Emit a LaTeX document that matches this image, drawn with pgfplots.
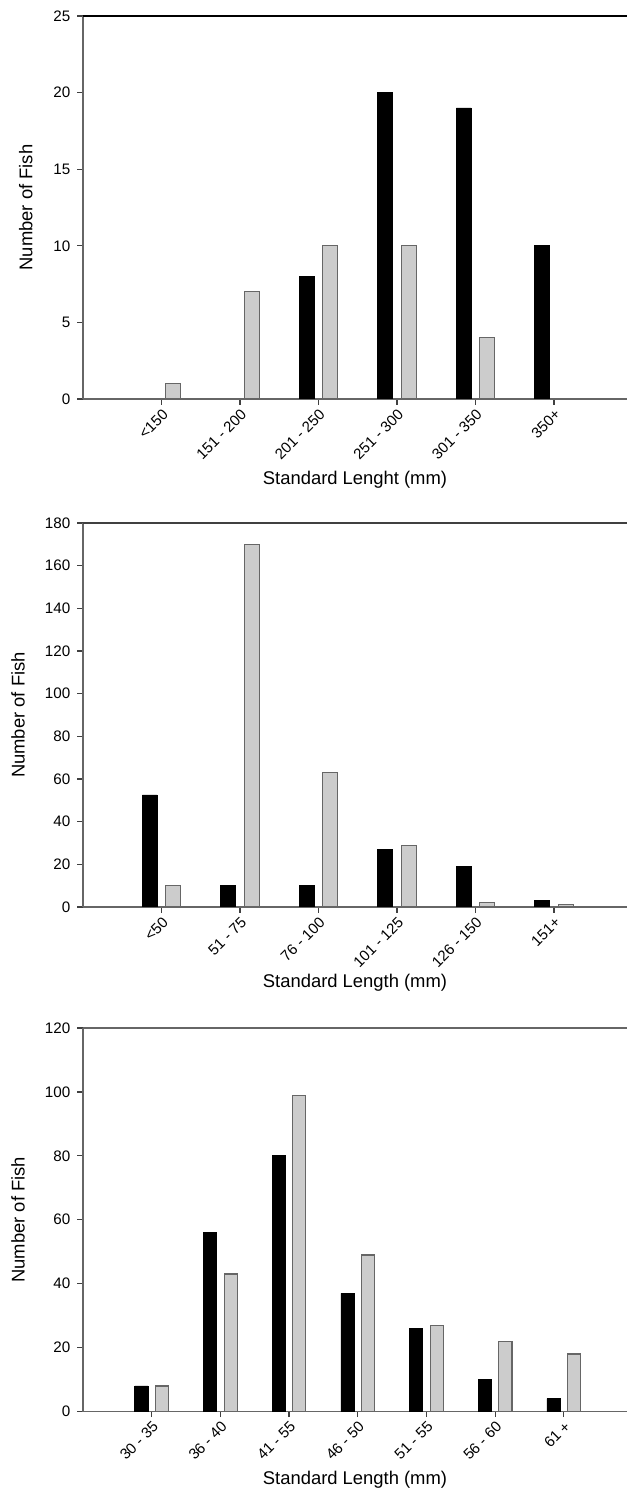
\documentclass[border=0pt]{standalone}
\usepackage{fontspec}
\setmainfont{Liberation Sans}
\usepackage{pgfplots}
\pgfplotsset{compat=1.18}

\pgfplotsset{fishstyle/.style={
  scale only axis, width=272pt,
  axis x line*=bottom, axis y line*=left,
  axis line style={-, draw=black!60, line width=0.7pt},
  tick align=outside, major tick length=2.8pt,
  tick style={draw=black!75, line width=0.6pt},
  /pgf/number format/assume math mode=true,
  yticklabel style={font=\fontsize{7.6}{9}\selectfont},
  xticklabel style={font=\fontsize{7.5}{9}\selectfont, rotate=45, anchor=north east, inner sep=1pt},
  label style={font=\fontsize{9.2}{11}\selectfont},
  ymin=0, ybar, bar width=0.19,
  xmin=-1,
  ylabel={Number of Fish},
}}
\tikzset{blk/.style={fill=black, draw=black, bar shift=-0.15},
         gry/.style={fill=black!20, draw=black!60, line width=0.6pt, bar shift=0.15}}

\begin{document}
\begin{tikzpicture}
\useasboundingbox (0,0) rectangle (313.5pt,744pt);

% Panel 1
\begin{axis}[fishstyle, at={(41.5pt,544.5pt)}, anchor=south west, height=191.5pt,
  xmax=5.93, ymax=25, ytick={0,5,...,25},
  xtick={0,...,5}, xticklabels={<150,151 - 200,201 - 250,251 - 300,301 - 350,350+},
  xlabel={Standard Lenght (mm)},
  xlabel style={at={(axis description cs:0.5,0)}, anchor=center, yshift=-40.5pt},
  ylabel style={at={(axis description cs:-0.105,0.5)}, anchor=center}]
\addplot[blk] coordinates {(2,8) (3,20) (4,19) (5,10)};
\addplot[gry] coordinates {(0,1) (1,7) (2,10) (3,10) (4,4)};
\draw[black, line width=0.7pt] (rel axis cs:0,1) -- (rel axis cs:1,1);
\end{axis}

% Panel 2
\begin{axis}[fishstyle, at={(41.5pt,290.5pt)}, anchor=south west, height=192pt,
  xmax=5.93, ymax=180, ytick={0,20,...,180},
  xtick={0,...,5}, xticklabels={<50,51 - 75,76 - 100,101 - 125,126 - 150,151+},
  xlabel={Standard Length (mm)},
  xlabel style={at={(axis description cs:0.5,0)}, anchor=center, yshift=-38pt},
  ylabel style={at={(axis description cs:-0.1195,0.5)}, anchor=center}]
\addplot[blk] coordinates {(0,52.5) (1,10) (2,10) (3,27) (4,19) (5,3)};
\addplot[gry] coordinates {(0,10) (1,170) (2,63) (3,29) (4,2) (5,1)};
\draw[black!75, line width=0.7pt] (rel axis cs:0,1) -- (rel axis cs:1,1);
\end{axis}

% Panel 3
\begin{axis}[fishstyle, at={(41.5pt,38.25pt)}, anchor=south west, height=191.75pt,
  xmax=6.92, ymax=120, ytick={0,20,...,120},
  xtick={0,...,6}, xticklabels={30 - 35,36 - 40,41 - 55,46 - 50,51 - 55,56 - 60,61 +},
  xlabel={Standard Length (mm)},
  xlabel style={at={(axis description cs:0.5,0)}, anchor=center, yshift=-34.25pt},
  ylabel style={at={(axis description cs:-0.1195,0.5)}, anchor=center}]
\addplot[blk] coordinates {(0,8) (1,56) (2,80) (3,37) (4,26) (5,10) (6,4)};
\addplot[gry] coordinates {(0,8) (1,43) (2,99) (3,49) (4,27) (5,22) (6,18)};
\draw[black!60, line width=0.7pt] (rel axis cs:0,1) -- (rel axis cs:1,1);
\end{axis}
\end{tikzpicture}
\end{document}
